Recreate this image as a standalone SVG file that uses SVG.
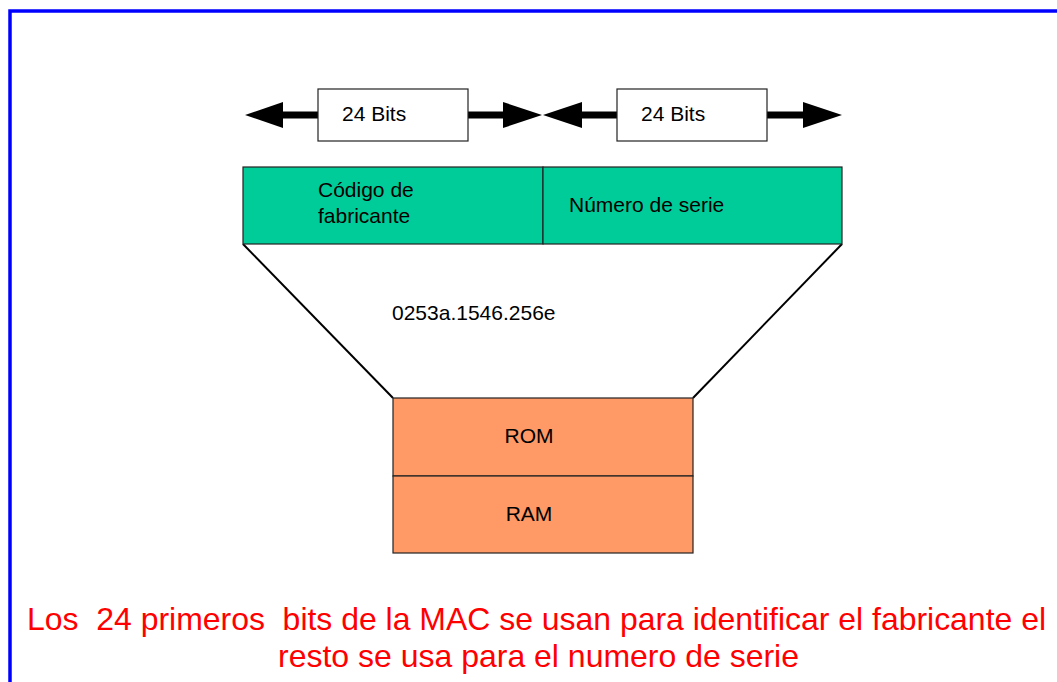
<svg xmlns="http://www.w3.org/2000/svg" width="1057" height="682" viewBox="0 0 1057 682">
<style>
.t{font-family:"Liberation Sans",Arial,sans-serif;font-size:21px;fill:#000}
.box{stroke:#222;stroke-width:1.2}
.ln{stroke:#000;stroke-width:7;fill:none}
.ah{fill:#000}
.red{font-family:"Liberation Sans",Arial,sans-serif;font-size:32px;fill:#ff0000}
</style>
<rect width="1057" height="682" fill="#fff"/>
<path d="M10 682 V11 H1057" fill="none" stroke="#0000ff" stroke-width="3.5"/>
<g id="connectors">
<line class="ln" x1="280" y1="115" x2="318" y2="115"/>
<line class="ln" x1="468" y1="115" x2="506" y2="115"/>
<line class="ln" x1="579" y1="115" x2="617" y2="115"/>
<line class="ln" x1="767" y1="115" x2="805" y2="115"/>
<polygon class="ah" points="245,115 283,102 283,128"/>
<polygon class="ah" points="542,115 503,102 503,128"/>
<polygon class="ah" points="543,115 582,102 582,128"/>
<polygon class="ah" points="842,115 803,102 803,128"/>
<line x1="243" y1="244" x2="393" y2="398" stroke="#000" stroke-width="2"/>
<line x1="842" y1="244" x2="693" y2="398" stroke="#000" stroke-width="2"/>
</g>
<g id="bits1">
<rect class="box" x="318" y="89" width="150" height="52" fill="#fff"/>
<text class="t" x="342" y="121">24 Bits</text>
</g>
<g id="bits2">
<rect class="box" x="617" y="89" width="150" height="52" fill="#fff"/>
<text class="t" x="641" y="121">24 Bits</text>
</g>
<g id="fabricante">
<rect class="box" x="243" y="167" width="300" height="77" fill="#00cc99"/>
<text class="t" x="318" y="197">Código de</text>
<text class="t" x="318" y="223">fabricante</text>
</g>
<g id="serie">
<rect class="box" x="543" y="167" width="299" height="77" fill="#00cc99"/>
<text class="t" x="569" y="212">Número de serie</text>
</g>
<g id="mac">
<text class="t" x="392" y="320">0253a.1546.256e</text>
</g>
<g id="rom">
<rect class="box" x="393" y="398" width="300" height="78" fill="#ff9966"/>
<text class="t" x="529" y="443" text-anchor="middle">ROM</text>
</g>
<g id="ram">
<rect class="box" x="393" y="476" width="300" height="77" fill="#ff9966"/>
<text class="t" x="529" y="521" text-anchor="middle">RAM</text>
</g>
<g id="caption">
<text class="red" x="27" y="630" textLength="1019" lengthAdjust="spacingAndGlyphs" xml:space="preserve">Los  24 primeros  bits de la MAC se usan para identificar el fabricante el</text>
<text class="red" x="278" y="667" textLength="521" lengthAdjust="spacingAndGlyphs">resto se usa para el numero de serie</text>
</g>
</svg>
